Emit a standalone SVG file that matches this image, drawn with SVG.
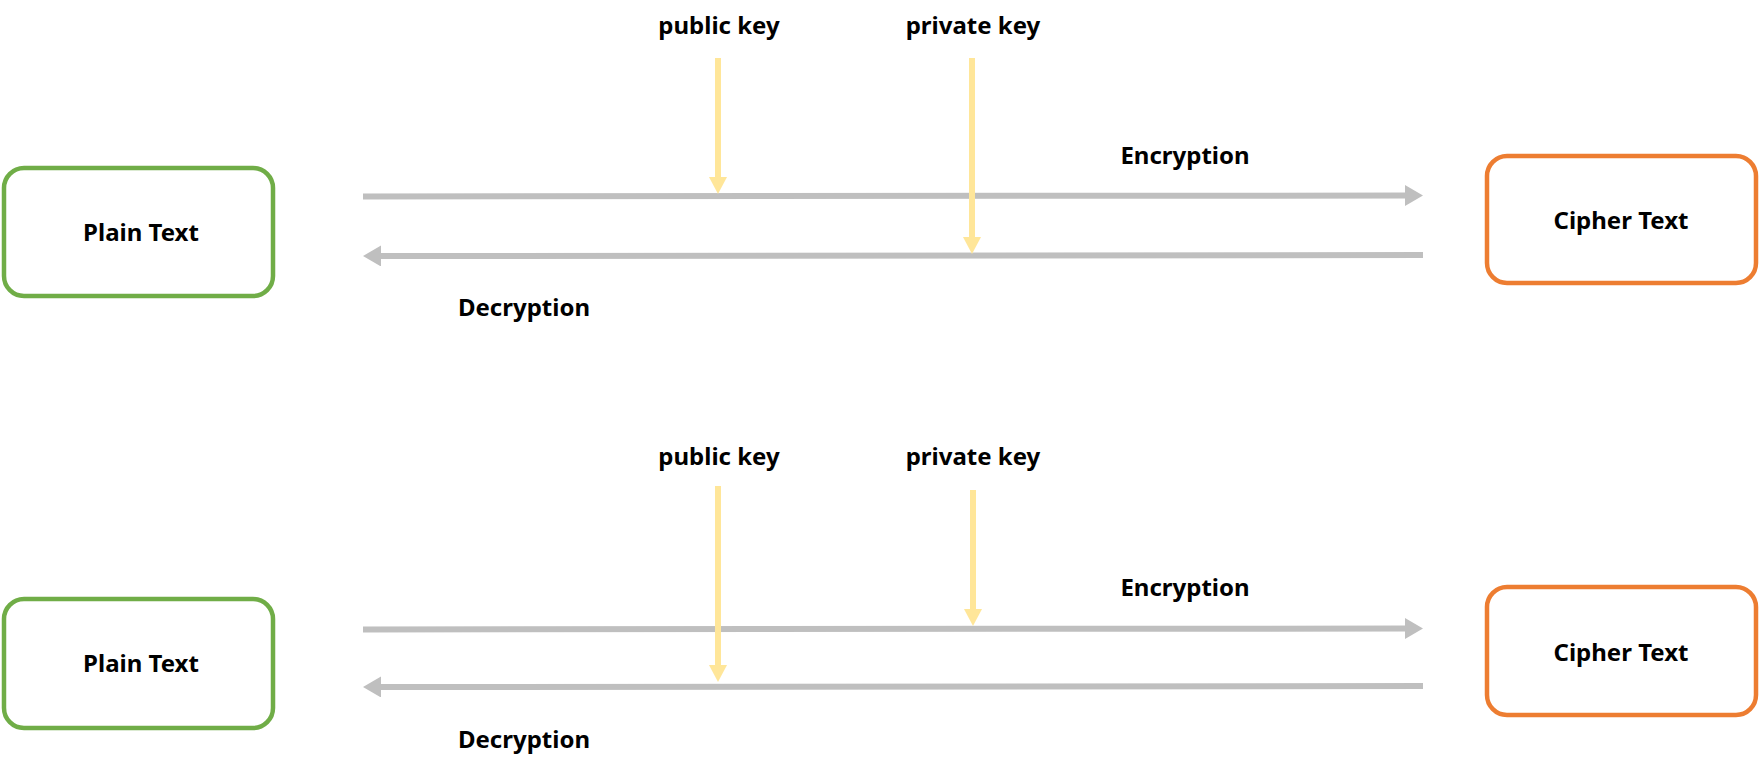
<svg xmlns="http://www.w3.org/2000/svg" width="1761" height="768" viewBox="0 0 1761 768">
<style>
.plain{fill:#fff;stroke:#70AD47;stroke-width:4.5}
.cipher{fill:#fff;stroke:#ED7D31;stroke-width:4.5}
.t{font-family:"Noto Sans","Liberation Sans",sans-serif;font-weight:700;font-size:24px;fill:#000;text-anchor:middle}
.g{stroke:#BFBFBF;stroke-width:6;fill:none}
.y{stroke:#FFE699;stroke-width:6;fill:none}
</style>
<defs>
<marker id="ga" markerUnits="userSpaceOnUse" markerWidth="18" markerHeight="21" refX="1" refY="10.5" orient="auto"><path d="M0,0 L18,10.5 L0,21 z" fill="#BFBFBF"/></marker>
<marker id="ya" markerUnits="userSpaceOnUse" markerWidth="17" markerHeight="18" refX="1" refY="9" orient="auto"><path d="M0,0 L17,9 L0,18 z" fill="#FFE699"/></marker>
</defs>
<rect width="1761" height="768" fill="#fff"/>
<g id="plain1"><rect class="plain" x="4" y="168" width="269" height="128" rx="20"/><text class="t" x="141" y="241">Plain Text</text></g>
<g id="cipher1"><rect class="cipher" x="1487" y="156" width="269" height="127" rx="20"/><text class="t" x="1621" y="229">Cipher Text</text></g>
<g id="plain2"><rect class="plain" x="4" y="599" width="269" height="129" rx="20"/><text class="t" x="141" y="672">Plain Text</text></g>
<g id="cipher2"><rect class="cipher" x="1487" y="587" width="269" height="128" rx="20"/><text class="t" x="1621" y="661">Cipher Text</text></g>
<g id="labels">
<text class="t" x="719" y="34">public key</text>
<text class="t" x="973" y="34">private key</text>
<text class="t" x="1185" y="164">Encryption</text>
<text class="t" x="524" y="316">Decryption</text>
<text class="t" x="719" y="465">public key</text>
<text class="t" x="973" y="465">private key</text>
<text class="t" x="1185" y="596">Encryption</text>
<text class="t" x="524" y="748">Decryption</text>
</g>
<g id="connectors">
<path class="g" d="M363,196.5 L1406,195.5" marker-end="url(#ga)"/>
<path class="g" d="M1423,255 L380,256" marker-end="url(#ga)"/>
<path class="g" d="M363,629.5 L1406,628.5" marker-end="url(#ga)"/>
<path class="g" d="M1423,686 L380,687" marker-end="url(#ga)"/>
<path class="y" d="M718,58 L718,178" marker-end="url(#ya)"/>
<path class="y" d="M972,58 L972,238" marker-end="url(#ya)"/>
<path class="y" d="M718,486 L718,666" marker-end="url(#ya)"/>
<path class="y" d="M973,490 L973,610" marker-end="url(#ya)"/>
</g>
</svg>
